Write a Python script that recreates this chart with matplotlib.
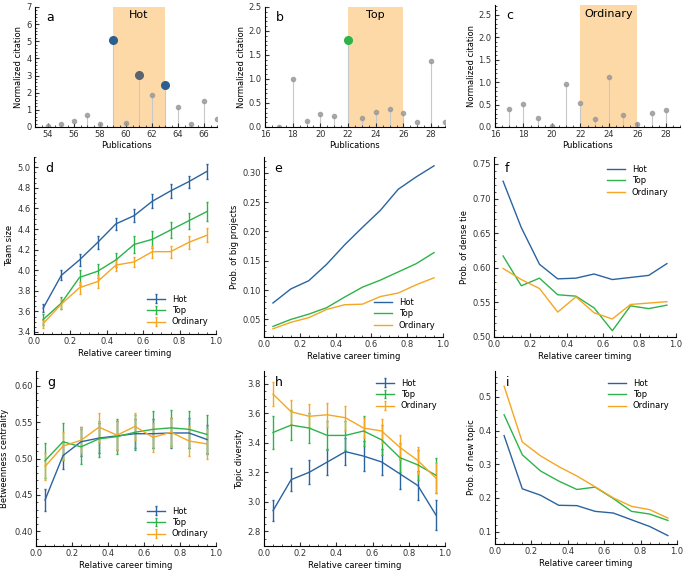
import numpy as np
import matplotlib.pyplot as plt
from matplotlib.ticker import AutoMinorLocator, MultipleLocator

# ---- data ----
x_timing = [0.05, 0.15, 0.25, 0.35, 0.45, 0.55, 0.65, 0.75, 0.85, 0.95]

pubs_a = [54, 55, 56, 57, 58, 59, 60, 61, 62, 63, 64, 65, 66, 67]
cit_a = [0.05, 0.2, 0.35, 0.72, 0.15, 5.05, 0.25, 3.05, 1.85, 2.45, 1.15, 0.15, 1.5, 0.45]
pubs_b = [17, 18, 19, 20, 21, 22, 23, 24, 25, 26, 27, 28, 29]
cit_b = [0.0, 1.0, 0.13, 0.27, 0.22, 1.82, 0.18, 0.32, 0.38, 0.3, 0.1, 1.38, 0.1]
pubs_c = [17, 18, 19, 20, 21, 22, 23, 24, 25, 26, 27, 28]
cit_c = [0.4, 0.52, 0.2, 0.02, 0.96, 0.54, 0.17, 1.12, 0.27, 0.07, 0.31, 0.38]

team_hot = [3.63, 3.95, 4.10, 4.27, 4.45, 4.53, 4.67, 4.77, 4.86, 4.96]
team_hot_err = [0.04, 0.05, 0.06, 0.06, 0.06, 0.06, 0.07, 0.07, 0.06, 0.07]
team_top = [3.52, 3.68, 3.93, 3.99, 4.10, 4.25, 4.30, 4.39, 4.48, 4.57]
team_top_err = [0.05, 0.06, 0.07, 0.07, 0.07, 0.08, 0.08, 0.08, 0.08, 0.09]
team_ord = [3.48, 3.67, 3.83, 3.89, 4.05, 4.08, 4.18, 4.18, 4.27, 4.34]
team_ord_err = [0.04, 0.05, 0.06, 0.06, 0.06, 0.05, 0.06, 0.06, 0.06, 0.07]

big_hot = [0.078, 0.102, 0.116, 0.144, 0.177, 0.207, 0.236, 0.272, 0.293, 0.312]
big_top = [0.038, 0.050, 0.059, 0.070, 0.088, 0.105, 0.117, 0.131, 0.145, 0.164]
big_ord = [0.034, 0.045, 0.053, 0.067, 0.075, 0.076, 0.089, 0.095, 0.109, 0.121]

dense_hot = [0.725, 0.658, 0.605, 0.584, 0.585, 0.591, 0.583, 0.586, 0.589, 0.606]
dense_top = [0.617, 0.574, 0.585, 0.561, 0.559, 0.542, 0.509, 0.545, 0.541, 0.546]
dense_ord = [0.599, 0.583, 0.570, 0.536, 0.558, 0.535, 0.526, 0.547, 0.549, 0.551]

betw_hot = [0.443, 0.504, 0.523, 0.528, 0.531, 0.534, 0.534, 0.535, 0.535, 0.526]
betw_hot_err = [0.015, 0.018, 0.02, 0.02, 0.02, 0.02, 0.02, 0.02, 0.02, 0.02]
betw_top = [0.497, 0.523, 0.516, 0.527, 0.530, 0.536, 0.540, 0.542, 0.540, 0.533]
betw_top_err = [0.024, 0.025, 0.024, 0.025, 0.024, 0.024, 0.025, 0.025, 0.025, 0.026]
betw_ord = [0.489, 0.517, 0.525, 0.543, 0.532, 0.544, 0.529, 0.536, 0.524, 0.520]
betw_ord_err = [0.019, 0.019, 0.018, 0.02, 0.02, 0.018, 0.02, 0.02, 0.02, 0.021]

div_hot = [2.94, 3.15, 3.20, 3.27, 3.34, 3.31, 3.27, 3.19, 3.11, 2.91]
div_hot_err = [0.07, 0.08, 0.08, 0.09, 0.09, 0.1, 0.09, 0.1, 0.1, 0.1]
div_top = [3.47, 3.52, 3.50, 3.45, 3.45, 3.48, 3.42, 3.30, 3.25, 3.18]
div_top_err = [0.11, 0.1, 0.1, 0.1, 0.1, 0.1, 0.1, 0.1, 0.1, 0.12]
div_ord = [3.73, 3.61, 3.58, 3.59, 3.57, 3.50, 3.48, 3.37, 3.28, 3.16]
div_ord_err = [0.08, 0.08, 0.08, 0.08, 0.08, 0.07, 0.08, 0.08, 0.09, 0.1]

new_hot = [0.385, 0.227, 0.208, 0.178, 0.177, 0.160, 0.155, 0.135, 0.115, 0.088]
new_top = [0.447, 0.328, 0.280, 0.250, 0.225, 0.232, 0.198, 0.160, 0.152, 0.133]
new_ord = [0.532, 0.366, 0.325, 0.293, 0.265, 0.233, 0.200, 0.175, 0.165, 0.140]

labels = ["Hot", "Top", "Ordinary"]
colors = ["#2a64a0", "#2db34a", "#f5a623"]
span_color = "#fdd9a8"

FS = 6
plt.rcParams["font.size"] = FS
W, H = 685, 573
fig = plt.figure(figsize=(W / 100, H / 100), dpi=100)


def make_ax(l, r, t, b):
    return fig.add_axes([l / W, 1 - b / H, (r - l) / W, (b - t) / H])


def style(ax, letter, lx=0.06):
    for s in ["top", "right"]:
        ax.spines[s].set_visible(False)
    ax.tick_params(which="both", direction="in", labelsize=FS, colors="#333333", pad=2.5)
    ax.tick_params(which="major", length=3)
    ax.tick_params(which="minor", length=1.5)
    ax.xaxis.set_minor_locator(AutoMinorLocator())
    ax.yaxis.set_minor_locator(AutoMinorLocator())
    ax.text(lx, 0.97, letter, transform=ax.transAxes, fontsize=9, va="top", ha="left")


# ---- top row: citation stems ----
def stem_panel(ax, pubs, cits, span, highlight, name, letter, xlim, ylim):
    ax.axvspan(span[0], span[1], color=span_color, zorder=0, lw=0)
    ax.vlines(pubs, 0, cits, color="#c8c8c8", lw=0.8, zorder=1)
    for p, c in zip(pubs, cits):
        if p in highlight:
            ax.plot(p, c, "o", ms=5.5, color=highlight[p], zorder=3)
        else:
            ax.plot(p, c, "o", ms=3, color="#999999", alpha=0.8, zorder=2)
    ax.set_xlim(*xlim)
    ax.set_ylim(*ylim)
    ax.xaxis.set_major_locator(MultipleLocator(2))
    ax.text((span[0] + span[1]) / 2, ylim[1] * 0.93, name, ha="center", va="center", fontsize=8)
    ax.set_xlabel("Publications", fontsize=FS, labelpad=1)
    ax.set_ylabel("Normalized citation", fontsize=FS, labelpad=2)
    style(ax, letter)


ax_a = make_ax(35, 217, 7, 127)
stem_panel(ax_a, pubs_a, cit_a, (59, 63), {59: "#2a5f8f", 61: "#5a6470", 63: "#2a5f8f"},
           "Hot", "a", (53, 67), (0, 7))
ax_a.yaxis.set_major_locator(MultipleLocator(1))

ax_b = make_ax(265, 445, 7, 127)
stem_panel(ax_b, pubs_b, cit_b, (22, 26), {22: "#2db34a"}, "Top", "b", (16, 29), (0, 2.5))
ax_b.yaxis.set_major_locator(MultipleLocator(0.5))

ax_c = make_ax(495, 680, 5, 127)
stem_panel(ax_c, pubs_c, cit_c, (22, 26), {}, "Ordinary", "c", (16, 29), (0, 2.72))
ax_c.yaxis.set_major_locator(MultipleLocator(0.5))


def err_panel(ax, ys, errs, ylabel, letter, ylim, loc):
    for y, e, lab, col in zip(ys, errs, labels, colors):
        ax.errorbar(x_timing, y, yerr=e, color=col, label=lab, lw=1, elinewidth=1, capsize=1)
    finish(ax, ylabel, letter, ylim, loc)


def line_panel(ax, ys, ylabel, letter, ylim, loc):
    for y, lab, col in zip(ys, labels, colors):
        ax.plot(x_timing, y, color=col, label=lab, lw=1)
    finish(ax, ylabel, letter, ylim, loc)


def finish(ax, ylabel, letter, ylim, loc):
    ax.set_xlim(0, 1)
    ax.set_ylim(*ylim)
    ax.xaxis.set_major_locator(MultipleLocator(0.2))
    ax.set_xlabel("Relative career timing", fontsize=FS, labelpad=2)
    ax.set_ylabel(ylabel, fontsize=FS, labelpad=2)
    ax.legend(loc=loc, frameon=False, fontsize=FS, handlelength=2.2, labelspacing=0.3)
    style(ax, letter)


ax_d = make_ax(34, 216, 157, 334)
err_panel(ax_d, [team_hot, team_top, team_ord], [team_hot_err, team_top_err, team_ord_err],
          "Team size", "d", (3.38, 5.1), "lower right")
ax_d.yaxis.set_major_locator(MultipleLocator(0.2))

ax_e = make_ax(264, 443, 157, 337)
line_panel(ax_e, [big_hot, big_top, big_ord], "Prob. of big projects", "e", (0.02, 0.327), "lower right")
ax_e.yaxis.set_major_locator(MultipleLocator(0.05))

ax_f = make_ax(494, 676, 157, 337)
line_panel(ax_f, [dense_hot, dense_top, dense_ord], "Prob. of dense tie", "f", (0.50, 0.76), "upper right")
ax_f.yaxis.set_major_locator(MultipleLocator(0.05))

ax_g = make_ax(36, 216, 371, 546)
err_panel(ax_g, [betw_hot, betw_top, betw_ord], [betw_hot_err, betw_top_err, betw_ord_err],
          "Betweenness centrality", "g", (0.38, 0.62), "lower right")
ax_g.yaxis.set_major_locator(MultipleLocator(0.05))
ax_g.yaxis.set_label_coords(-0.15, 0.5)

ax_h = make_ax(264, 445, 371, 546)
err_panel(ax_h, [div_hot, div_top, div_ord], [div_hot_err, div_top_err, div_ord_err],
          "Topic diversity", "h", (2.7, 3.887), "upper right")
ax_h.yaxis.set_major_locator(MultipleLocator(0.2))

ax_i = make_ax(495, 677, 371, 544)
line_panel(ax_i, [new_hot, new_top, new_ord], "Prob. of new topic", "i", (0.063, 0.577), "upper right")
ax_i.yaxis.set_major_locator(MultipleLocator(0.1))

fig.savefig("out.png", dpi=100)
